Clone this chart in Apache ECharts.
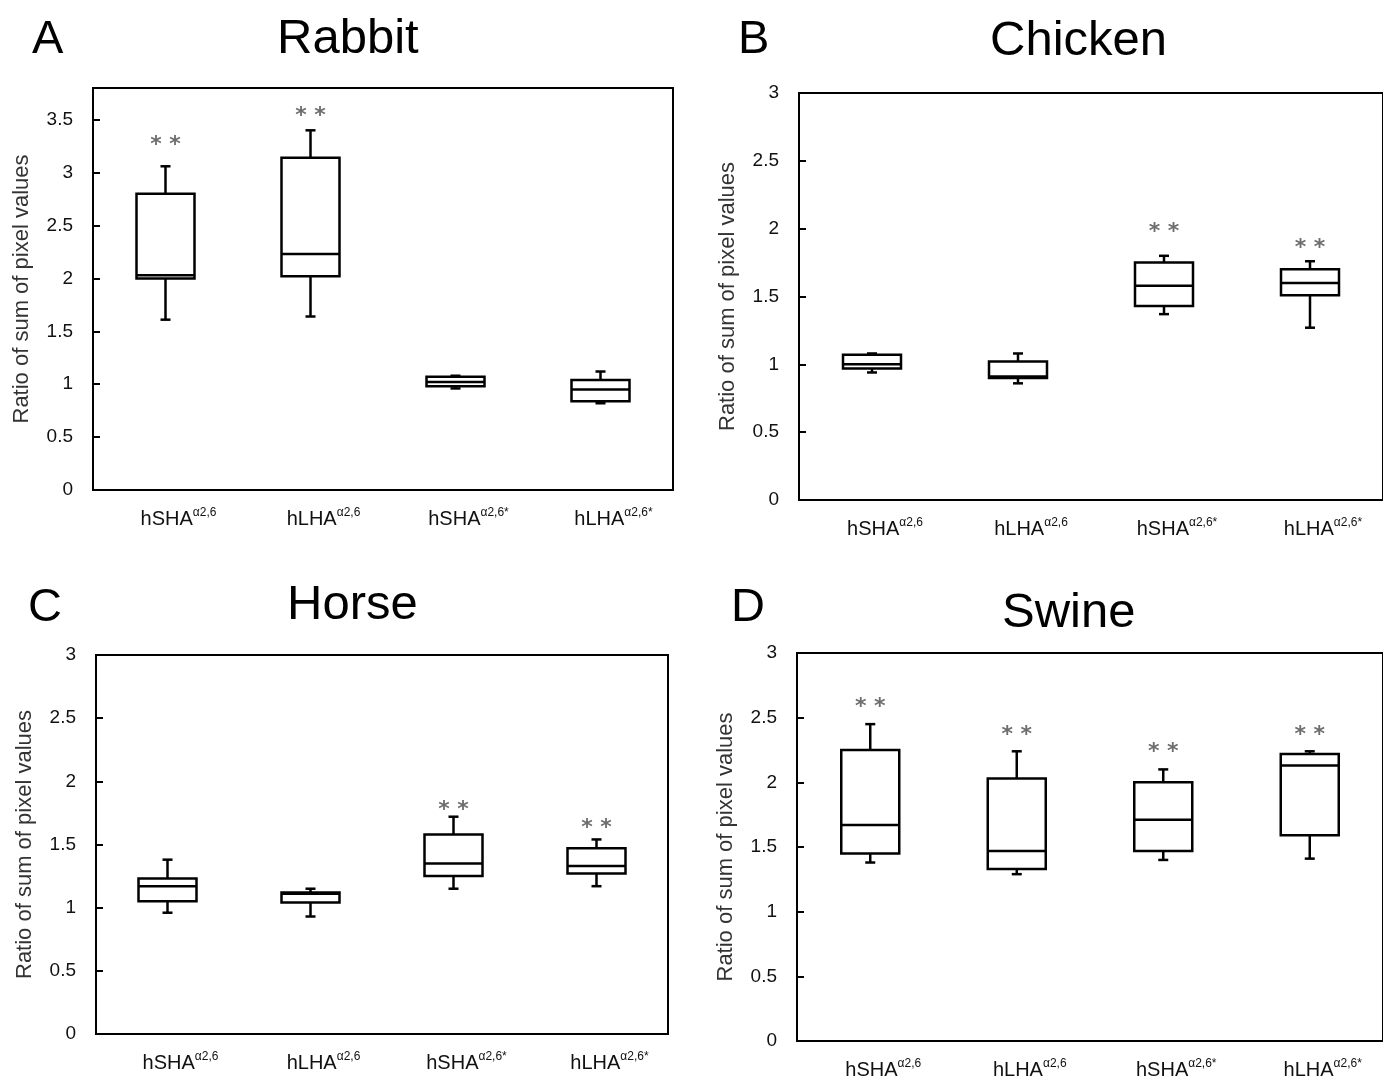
<!DOCTYPE html>
<html>
<head>
<meta charset="utf-8">
<title>Ratio of sum of pixel values</title>
<script src="https://cdn.jsdelivr.net/npm/echarts@6/dist/echarts.min.js"></script>
<style>
  html, body { margin: 0; padding: 0; background: #fff; }
  #chart { width: 1383px; height: 1082px; }
</style>
</head>
<body>
<div id="chart"></div>
<script>
// categories (base name + superscript)
var catBase = ['hSHA', 'hLHA', 'hSHA', 'hLHA'];
var catSup = ['\u03b12,6', '\u03b12,6', '\u03b12,6*', '\u03b12,6*'];

// boxes: [min, Q1, median, Q3, max]
var rabbitBoxes = [[1.61, 2.00, 2.03, 2.80, 3.06], [1.64, 2.02, 2.23, 3.14, 3.40], [0.96, 0.98, 1.02, 1.07, 1.08], [0.82, 0.84, 0.95, 1.04, 1.12]];
var chickenBoxes = [[0.94, 0.97, 1.00, 1.07, 1.08], [0.86, 0.90, 0.91, 1.02, 1.08], [1.37, 1.43, 1.58, 1.75, 1.80], [1.27, 1.51, 1.60, 1.70, 1.76]];
var horseBoxes = [[0.96, 1.05, 1.17, 1.23, 1.38], [0.93, 1.04, 1.11, 1.12, 1.15], [1.15, 1.25, 1.35, 1.58, 1.72], [1.17, 1.27, 1.33, 1.47, 1.54]];
var swineBoxes = [[1.38, 1.45, 1.67, 2.25, 2.45], [1.29, 1.33, 1.47, 2.03, 2.24], [1.40, 1.47, 1.71, 2.00, 2.10], [1.41, 1.59, 2.13, 2.22, 2.24]];

// height of the "**" marks (null = none)
var rabbitStars = [3.31, 3.58, null, null];
var chickenStars = [null, null, 2.01, 1.89];
var horseStars = [null, null, 1.81, 1.67];
var swineStars = [2.62, 2.40, 2.27, 2.40];

var yMax = [3.8, 3, 3, 3];
var panelNames = ['Rabbit', 'Chicken', 'Horse', 'Swine'];
var panelLetters = ['A', 'B', 'C', 'D'];

var FONT = '"Liberation Sans", Arial, sans-serif';

var grids = [
  { left: 93, top: 88, width: 580, height: 402 },
  { left: 799, top: 93, width: 584, height: 407 },
  { left: 96, top: 655, width: 572, height: 379 },
  { left: 797, top: 653, width: 586, height: 388 }
];
grids.forEach(function (g) {
  g.show = true;
  g.borderColor = '#000';
  g.borderWidth = 2;
  g.backgroundColor = 'transparent';
});

function renderBox(params, api) {
  var i = api.value(0);
  var pMin = api.coord([i, api.value(1)]);
  var pQ1 = api.coord([i, api.value(2)]);
  var pMed = api.coord([i, api.value(3)]);
  var pQ3 = api.coord([i, api.value(4)]);
  var pMax = api.coord([i, api.value(5)]);
  var x = pMed[0], half = 29, cap = 5;
  var st = { stroke: '#000', lineWidth: 2.5, fill: null };
  return {
    type: 'group',
    children: [
      { type: 'line', shape: { x1: x, y1: pMax[1], x2: x, y2: pQ3[1] }, style: st },
      { type: 'line', shape: { x1: x, y1: pMin[1], x2: x, y2: pQ1[1] }, style: st },
      { type: 'line', shape: { x1: x - cap, y1: pMax[1], x2: x + cap, y2: pMax[1] }, style: st },
      { type: 'line', shape: { x1: x - cap, y1: pMin[1], x2: x + cap, y2: pMin[1] }, style: st },
      { type: 'rect', shape: { x: x - half, y: pQ3[1], width: half * 2, height: pQ1[1] - pQ3[1] },
        style: { fill: '#fff', stroke: '#000', lineWidth: 2.5 } },
      { type: 'line', shape: { x1: x - half, y1: pMed[1], x2: x + half, y2: pMed[1] }, style: st }
    ]
  };
}

var allBoxes = [rabbitBoxes, chickenBoxes, horseBoxes, swineBoxes];
var allStars = [rabbitStars, chickenStars, horseStars, swineStars];

var xAxes = [], yAxes = [], series = [], titles = [];
var letterPos = [[27, 12], [733, 12], [23, 580], [726, 580]];
var namePos = [[272, 10], [985, 12], [282, 576], [997, 584]];

for (var k = 0; k < 4; k++) {
  xAxes.push({
    type: 'category', gridIndex: k,
    data: catBase.map(function (b, i) { return { value: b + '|' + i }; }),
    axisLine: { show: false }, axisTick: { show: false }, splitLine: { show: false },
    axisLabel: {
      margin: 17, interval: 0,
      formatter: function (v) {
        var parts = v.split('|');
        return '{b|' + parts[0] + '}{s|' + catSup[+parts[1]] + '}';
      },
      rich: {
        b: { fontFamily: FONT, fontSize: 20, color: '#111', padding: [0, 0, 0, 26] },
        s: { fontFamily: FONT, fontSize: 12, color: '#111', padding: [0, 0, 13, 0] }
      }
    }
  });
  yAxes.push({
    type: 'value', gridIndex: k, min: 0, max: yMax[k], interval: 0.5,
    name: 'Ratio of sum of pixel values', nameLocation: 'middle', nameGap: 60,
    nameTextStyle: { fontFamily: FONT, fontSize: 22, color: '#333' },
    axisLine: { show: false }, splitLine: { show: false },
    axisTick: { show: true, inside: true, length: 7, lineStyle: { color: '#000', width: 2 } },
    axisLabel: { fontFamily: FONT, fontSize: 19, color: '#111', margin: 20, showMaxLabel: k === 0 ? false : true }
  });
  series.push({
    type: 'custom', xAxisIndex: k, yAxisIndex: k,
    renderItem: renderBox,
    encode: { x: 0, y: [1, 2, 3, 4, 5] },
    data: allBoxes[k].map(function (b, i) { return [i].concat(b); })
  });
  series.push({
    type: 'scatter', xAxisIndex: k, yAxisIndex: k,
    symbolSize: 1, itemStyle: { color: 'rgba(0,0,0,0)' },
    label: { show: true, position: 'inside', formatter: '* *', offset: [0, 5],
      fontFamily: '"DejaVu Sans", sans-serif', fontSize: 22, fontWeight: 'bold', color: '#4a4a4a' },
    data: allStars[k].map(function (v, i) { return v === null ? null : [i, v]; }).filter(function (d) { return d; })
  });
  titles.push({ text: panelLetters[k], left: letterPos[k][0], top: letterPos[k][1],
    textStyle: { fontFamily: FONT, fontSize: 47, fontWeight: 'normal', color: '#000' } });
  titles.push({ text: panelNames[k], left: namePos[k][0], top: namePos[k][1],
    textStyle: { fontFamily: FONT, fontSize: 49, fontWeight: 'normal', color: '#000' } });
}

var chart = echarts.init(document.getElementById('chart'), null, { renderer: 'canvas' });
chart.setOption({
  backgroundColor: '#fff',
  animation: false,
  title: titles,
  grid: grids,
  xAxis: xAxes,
  yAxis: yAxes,
  series: series
});
</script>
</body>
</html>
